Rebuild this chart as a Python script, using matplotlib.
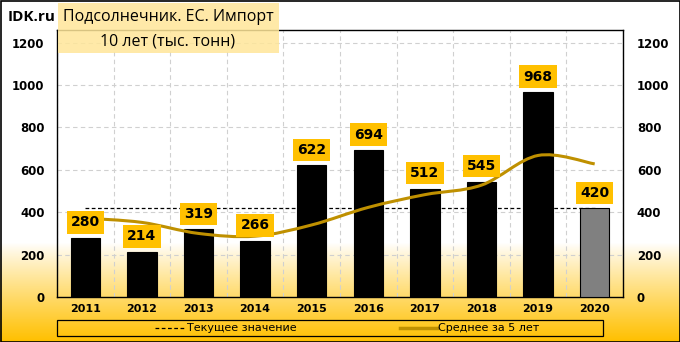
import numpy as np
import matplotlib
matplotlib.use("Agg")
import matplotlib.pyplot as plt
from matplotlib.patches import Rectangle, PathPatch
from matplotlib.path import Path
from matplotlib.lines import Line2D
from matplotlib.colors import LinearSegmentedColormap

years = ["2011", "2012", "2013", "2014", "2015", "2016", "2017", "2018", "2019", "2020"]
imports = [280, 214, 319, 266, 622, 694, 512, 545, 968, 420]
avg5 = [372, 352, 300, 287, 340, 423, 483, 528, 668, 628]
current = 420

title1 = "Подсолнечник. ЕС. Импорт"
title2 = "10 лет (тыс. тонн)"
legend_labels = ["Текущее значение", "Среднее за 5 лет"]

gold = "#FFC000"
line_gold = "#BF9000"

fig = plt.figure(figsize=(6.8, 3.42), dpi=100)

# background gradient: white on top, gold at the bottom
bg = fig.add_axes([0, 0, 1, 1], zorder=-10)
h = 342
yy = np.linspace(0, 1, h)
t = np.clip((yy - 0.71) / 0.29, 0, 1) ** 0.9
grad = t[:, None]
cmap = LinearSegmentedColormap.from_list("g", ["#FFFFFF", gold])
bg.imshow(grad, aspect="auto", cmap=cmap, extent=[0, 1, 0, 1], vmin=0, vmax=1)
bg.axis("off")

ax = fig.add_axes([57 / 680, 45 / 342, 566 / 680, 267 / 342])
ax.set_facecolor("none")
x = np.arange(len(years))

colors = ["black"] * (len(years) - 1) + ["#808080"]
ax.bar(x, imports, width=0.52, color=colors, edgecolor="black", linewidth=0.8, zorder=3)

# current value (dashed) behind the bars
ax.plot([x[0], x[-1]], [current, current], color="black", linestyle=(0, (3, 2)), linewidth=0.9, zorder=2)

# smoothed 5-year average line (Catmull-Rom as cubic Bezier)
pts = np.column_stack([x, avg5]).astype(float)
verts = [tuple(pts[0])]
codes = [Path.MOVETO]
n = len(pts)
for i in range(n - 1):
    p0 = pts[i - 1] if i > 0 else pts[i]
    p1 = pts[i]
    p2 = pts[i + 1]
    p3 = pts[i + 2] if i + 2 < n else pts[i + 1]
    c1 = p1 + (p2 - p0) / 6
    c2 = p2 - (p3 - p1) / 6
    verts += [tuple(c1), tuple(c2), tuple(p2)]
    codes += [Path.CURVE4] * 3
ax.add_patch(PathPatch(Path(verts, codes), facecolor="none", edgecolor=line_gold, linewidth=2.2, zorder=4))

# value labels
for xi, v in zip(x, imports):
    ax.annotate(str(v), (xi, v), xytext=(0, 11), textcoords="offset points",
                ha="center", va="center", fontsize=10, fontweight="bold",
                bbox=dict(boxstyle="square,pad=0.3", facecolor=gold, edgecolor="none"),
                zorder=6)

ax.set_xlim(-0.5, len(years) - 0.5)
ax.set_ylim(0, 1260)
ax.set_yticks(range(0, 1201, 200))
ax.set_xticks(x)
ax.set_xticklabels(years)
ax.set_xticks(np.arange(-0.5, len(years)), minor=True)
ax.grid(True, which="major", axis="y", color="#D0D0D0", linestyle=(0, (4, 3)), linewidth=0.8, zorder=0)
ax.grid(True, which="minor", axis="x", color="#D0D0D0", linestyle=(0, (4, 3)), linewidth=0.8, zorder=0)
ax.tick_params(which="both", length=0)
ax.tick_params(axis="y", pad=9, labelsize=8.5)
ax.tick_params(axis="x", pad=5, labelsize=8)
for lab in ax.get_xticklabels() + ax.get_yticklabels():
    lab.set_fontweight("bold")
for s in ax.spines.values():
    s.set_color("black")
    s.set_linewidth(1)

ax2 = ax.twinx()
ax2.set_ylim(ax.get_ylim())
ax2.set_yticks(range(0, 1201, 200))
ax2.tick_params(length=0, pad=10, labelsize=8.5)
for lab in ax2.get_yticklabels():
    lab.set_fontweight("bold")
for s in ax2.spines.values():
    s.set_visible(False)

# title
fig.text(8 / 680, 1 - 17 / 342, "IDK.ru", fontsize=11, fontweight="bold", family="Open Sans", va="center", ha="left")
fig.add_artist(Rectangle((58 / 680, 1 - 53 / 342), 221 / 680, 50 / 342, transform=fig.transFigure,
                         facecolor="#FFE699", edgecolor="none", alpha=0.85, zorder=8))
fig.text(168 / 680, 1 - 17 / 342, title1, fontsize=11.5, family="Open Sans", ha="center", va="center", zorder=9)
fig.text(168 / 680, 1 - 41 / 342, title2, fontsize=11.5, family="Open Sans", ha="center", va="center", zorder=9)

# legend box
fig.add_artist(Rectangle((57 / 680, 1 - 336 / 342), 546 / 680, 16 / 342, transform=fig.transFigure,
                         facecolor="none", edgecolor="black", linewidth=0.9))
ly = 1 - 328 / 342
fig.add_artist(Line2D([155 / 680, 184 / 680], [ly, ly], transform=fig.transFigure, color="black",
                      linestyle=(0, (3, 2)), linewidth=0.9))
fig.text(187 / 680, ly, legend_labels[0], fontsize=8, va="center", ha="left")
fig.add_artist(Line2D([400 / 680, 437 / 680], [ly, ly], transform=fig.transFigure, color=line_gold,
                      linewidth=2.5))
fig.text(438 / 680, ly, legend_labels[1], fontsize=8, va="center", ha="left")

# outer border
fig.add_artist(Rectangle((0.5 / 680, 0.5 / 342), 679 / 680, 341 / 342, transform=fig.transFigure,
                         facecolor="none", edgecolor="black", linewidth=1.2, zorder=20))

fig.savefig("out.png", dpi=100)
